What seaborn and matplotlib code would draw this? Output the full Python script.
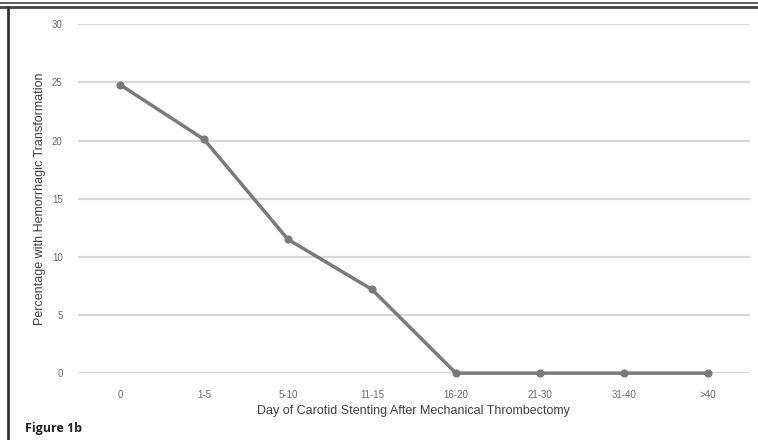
#Libraries
import pandas as pd
import seaborn as sns
import matplotlib.pyplot as plt
from matplotlib.lines import Line2D

#Data
days = ['0', '1-5', '5-10', '11-15', '16-20', '21-30', '31-40', '>40']
pct_ht = [24.8, 20.1, 11.5, 7.2, 0, 0, 0, 0]

df = pd.DataFrame({'Day': days, 'Pct': pct_ht})

sns.set_theme(style='white')
plt.rcParams['font.family'] = ['Liberation Sans', 'DejaVu Sans']

fig = plt.figure(figsize=(7.58, 4.40), dpi=100)
ax = fig.add_axes([0.103, 0.152, 0.886, 0.793])

sns.pointplot(data=df, x='Day', y='Pct', order=days, errorbar=None,
              color='#7a7a7a', markers='o', ax=ax,
              markersize=4, linewidth=2.5)
for c in ax.collections + ax.lines:
    c.set_clip_on(False)

#Axes styling
ax.set_ylim(0, 30)
ax.set_xlim(-0.5, 7.5)
ax.set_yticks([0, 5, 10, 15, 20, 25, 30])
ax.yaxis.grid(True, color='#d9d9d9', linewidth=1.6)
ax.set_axisbelow(True)
for s in ax.spines.values():
    s.set_visible(False)
ax.tick_params(axis='both', length=0, labelsize=7, labelcolor='#6a6a6a')
ax.tick_params(axis='y', pad=11)
ax.tick_params(axis='x', pad=12)
ax.set_xlabel('Day of Carotid Stenting After Mechanical Thrombectomy',
              fontsize=9, color='#404040', labelpad=4)
ax.set_ylabel('Percentage with Hemorrhagic Transformation',
              fontsize=9, color='#404040', labelpad=4)

#Figure label and frame
fig.text(0.033, 0.018, 'Figure 1b', fontsize=9, fontweight='bold',
         family=['Open Sans', 'DejaVu Sans'], color='#222222')
fig.add_artist(Line2D([0, 1], [0.994, 0.994], transform=fig.transFigure,
                      color='#444444', linewidth=1.2))
fig.add_artist(Line2D([0, 1], [0.985, 0.985], transform=fig.transFigure,
                      color='#444444', linewidth=2))
fig.add_artist(Line2D([0.011, 0.011], [0, 0.985], transform=fig.transFigure,
                      color='#333333', linewidth=2))

fig.savefig('out.png', dpi=100)
